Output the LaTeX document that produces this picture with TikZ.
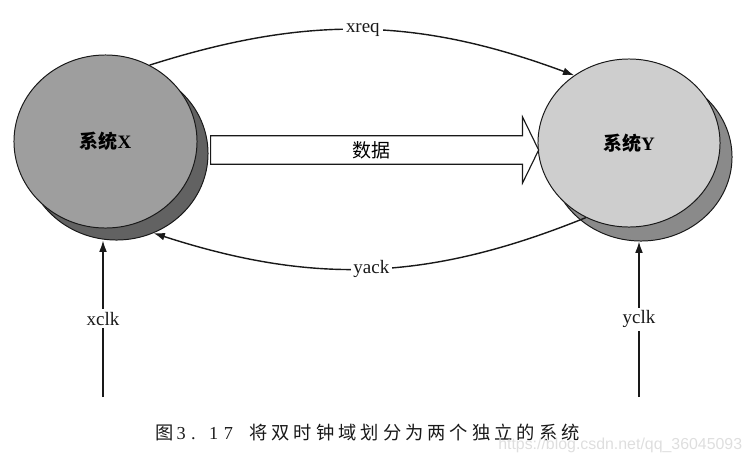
\documentclass[tikz,border=0pt]{standalone}
\usepackage{fontspec}
\setmainfont{Liberation Serif}
\setsansfont{Liberation Sans}
\newfontfamily\cjk{Noto Sans CJK SC}
\newfontfamily\cjkcap{Noto Sans CJK SC}[LetterSpace=22]
\newfontfamily\serifcap{Liberation Serif}[LetterSpace=30]
\usetikzlibrary{shapes.geometric, shapes.arrows, arrows.meta, positioning, calc}
\definecolor{mydark}{RGB}{25,25,25}
\definecolor{xfront}{RGB}{158,158,158}
\definecolor{xshade}{RGB}{98,98,98}
\definecolor{yfront}{RGB}{206,206,206}
\definecolor{yshade}{RGB}{138,138,138}
\definecolor{wmark}{RGB}{222,222,222}
\tikzset{
  sysdisk/.style={ellipse, draw=mydark, line width=0.7pt, inner sep=0pt,
    minimum width=4.575cm, minimum height=4.325cm,
    font=\fontsize{13.5}{16}\selectfont\bfseries},
  sigarrow/.style={-{Latex[length=8pt,width=5.5pt]}, line width=1pt, color=mydark},
  siglabel/.style={fill=white, inner sep=2pt, text=mydark,
    font=\fontsize{13.5}{16}\selectfont},
  databus/.style={single arrow, draw=mydark, fill=white, line width=0.8pt,
    minimum height=8.2cm, minimum width=1.65cm,
    single arrow head extend=0.4cm, single arrow tip angle=128,
    inner sep=2pt, font=\fontsize{13.5}{16}\selectfont},
  captext/.style={anchor=west, inner sep=0pt, text=mydark,
    font=\fontsize{13}{15}\selectfont}
}
\begin{document}
\begin{tikzpicture}[x=0.025cm, y=0.025cm]
  \useasboundingbox (0,0) rectangle (751,-468);
  % shadow disks
  \node[sysdisk, fill=xshade] (sysXs) at (116.5,-153.5) {};
  \node[sysdisk, fill=yshade, minimum width=4.55cm, minimum height=4.2cm] (sysYs) at (641,-157) {};
  % front disks
  \node[sysdisk, fill=xfront] (sysX) at (105.5,-141.5) {{\cjk\bfseries 系统}X};
  \node[sysdisk, fill=yfront, minimum width=4.55cm, minimum height=4.2cm] (sysY) at (629,-143) {{\cjk\bfseries 系统}Y};
  % data bus
  \node[databus, anchor=tail] (data) at (210,-150) {\cjk 数据};
  % handshake
  \draw[sigarrow] (sysX.60) to[bend left=19] node[siglabel] {xreq} (sysY.129);
  \draw[sigarrow] (sysY.240) to[bend left=20] node[siglabel] {yack} (sysXs.295);
  % clocks
  \coordinate (xclkin) at (103,-397);
  \coordinate (yclkin) at (639,-397);
  \draw[sigarrow] (xclkin) -- node[siglabel] {xclk} (xclkin |- sysXs.south);
  \draw[sigarrow] (yclkin) -- node[siglabel] {yclk} (yclkin |- sysYs.south);
  % caption
  \node[captext] (capnum) at (155,-433) {{\cjkcap 图}\,{\serifcap 3. 17}};
  \node[captext] (captitle) at (249,-433) {\cjkcap 将双时钟域划分为两个独立的系统};
  \node[anchor=west, inner sep=0pt, text=wmark, font=\sffamily\fontsize{11.3}{13}\selectfont] (wmark) at (498,-445)
    {https://blog.csdn.net/qq\_36045093};
\end{tikzpicture}
\end{document}
